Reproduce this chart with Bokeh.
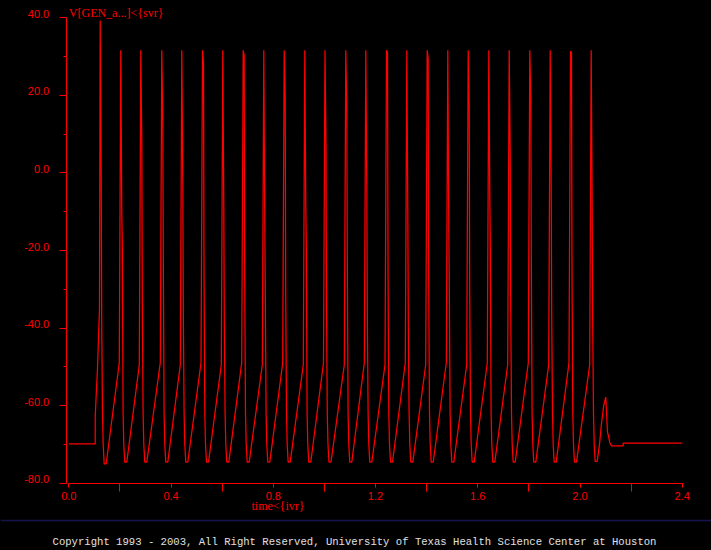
from bokeh.plotting import figure
from bokeh.models import LinearAxis, FixedTicker, Range1d, Span, Label, PrintfTickFormatter
from bokeh.embed import file_html
from bokeh.resources import INLINE

# ---------------- data ----------------
# resting level before the stimulus and the stimulus-onset ramp
rest_t = [0.0, 0.1033]
rest_v = [-69.9, -69.9]
onset_t = [0.1034, 0.1072, 0.1123, 0.1162, 0.1201]
onset_v = [-62.9, -57.3, -50.4, -42.3, -35.0]

# spike peaks (s, mV)
spike_t = [0.1228, 0.2034, 0.2817, 0.3638, 0.4421, 0.5231, 0.6025, 0.6823,
           0.7629, 0.8427, 0.9233, 1.0023, 1.0837, 1.1620, 1.2430, 1.3224,
           1.4022, 1.4828, 1.5626, 1.6432, 1.7230, 1.8036, 1.8834, 1.9628,
           2.0438]
spike_peak = [39.3, 31.6, 31.6, 31.6, 31.6, 31.6, 31.6, 31.6, 31.6, 31.6,
              31.6, 31.6, 31.6, 31.6, 31.6, 31.6, 31.6, 31.6, 31.6, 31.6,
              31.6, 31.6, 31.6, 31.4, 31.6]
# first and second samples on the falling phase of each spike (mV)
spike_hi = [-0.2, -11.0, 7.9, 13.1, -2.4, 28.6, -8.8, 30.3, -13.5, 20.0,
            -8.8, 6.2, 16.1, -3.2, 31.1, -9.7, 29.4, -14.4, 17.8, -5.8,
            4.5, 18.7, -3.7, 31.1, -10.1]
spike_lo = [-38.0, -17.8, -33.0, -21.3, -35.4, -24.6, -38.4, -27.2, -31.6, -30.3,
            -17.8, -32.9, -21.7, -35.9, -24.7, -39.3, -27.7, -29.4, -30.7, -18.2,
            -33.3, -22.1, -36.3, -25.1, -38.9]
# after-hyperpolarisation trough of each cycle (mV)
trough_v = [-75.0, -74.6, -74.6, -74.6, -74.6, -74.6, -74.6, -74.6, -74.6, -74.6,
            -74.6, -74.6, -74.6, -74.6, -74.6, -74.6, -74.6, -74.6, -74.6, -74.6,
            -74.6, -74.6, -74.6, -74.6, -74.4]
# level reached by the slow ramp just before spikes 2..25 (mV)
ramp_top_v = [-49.0, -49.5, -49.0, -49.5, -49.0, -49.5, -49.0, -49.5,
              -49.0, -49.5, -49.0, -49.5, -49.0, -49.5, -49.0, -49.5,
              -49.0, -49.5, -49.0, -49.5, -49.0, -49.5, -49.0, -49.5]
# shape of the falling phase: time after the peak (s) and fixed levels (mV)
fall_dt = [0.0039, 0.0059, 0.0090, 0.0117, 0.0156, 0.0235]
fall_mid_v = [-62.0, -70.0]
pre_dt = 0.0059
# last sub-threshold bump and return to rest
tail_t = [2.0763, 2.0841, 2.0931, 2.1009, 2.1076, 2.1166, 2.1232, 2.1690, 2.1691, 2.4]
tail_v = [-70.0, -64.6, -59.9, -57.8, -66.8, -69.5, -70.4, -70.4, -69.7, -69.7]

# axis ticks
x_ticks = [0.0, 0.4, 0.8, 1.2, 1.6, 2.0, 2.4]
x_minor = [0.2, 0.6, 1.0, 1.4, 1.8, 2.2]
y_ticks = [-80.0, -60.0, -40.0, -20.0, 0.0, 20.0, 40.0]
y_minor = [-70.0, -50.0, -30.0, -10.0, 10.0, 30.0]
y_tick_labels = ["-80.0", "-60.0", "-40.0", "-20.0", "0.0", "20.0", "40.0"]

title_text = "V[GEN_a...]<{svr}"
xlabel_text = "time<{ivr}"
footer_text = ("Copyright 1993 - 2003, All Right Reserved, "
               "University of Texas Health Science Center at Houston")

# ---------------- build the trace polyline ----------------
t = list(rest_t) + list(onset_t)
v = list(rest_v) + list(onset_v)
for i in range(len(spike_t)):
    if i > 0:
        t.append(spike_t[i] - pre_dt)
        v.append(ramp_top_v[i - 1])
    t.append(spike_t[i])
    v.append(spike_peak[i])
    vals = [spike_hi[i], spike_lo[i], fall_mid_v[0], fall_mid_v[1], trough_v[i], trough_v[i]]
    for dt, val in zip(fall_dt, vals):
        t.append(spike_t[i] + dt)
        v.append(val)
t += tail_t
v += tail_v

# ---------------- layout (pixel mapping of the reference) ----------------
W, H = 711, 550
X0, KX = 68.3, 255.6     # px of t=0 from the left, px per second
Y0, KY = 172.4, 3.878    # px of 0 mV from the top, px per mV

def dx(px):
    return (px - X0) / KX

def dy(py):
    return (Y0 - py) / KY

RED = "#ff0000"

p = figure(width=W, height=H, output_backend="svg", toolbar_location=None,
           x_range=Range1d(dx(0), dx(W)), y_range=Range1d(dy(H), dy(0)),
           x_axis_location=None, y_axis_location=None,
           min_border=0, min_border_left=0, min_border_right=0,
           min_border_top=0, min_border_bottom=0,
           background_fill_color="#000000", border_fill_color="#000000",
           outline_line_color=None)
p.grid.visible = False

yaxis_x = dx(65.7)

xaxis = LinearAxis(fixed_location=-80.0, bounds=(0.0, dx(683.0)),
                   ticker=FixedTicker(ticks=x_ticks, minor_ticks=x_minor),
                   formatter=PrintfTickFormatter(format="%.1f"),
                   axis_line_color=RED, axis_line_width=1.2,
                   major_tick_line_color=RED, major_tick_out=4, major_tick_in=0,
                   minor_tick_line_color=RED, minor_tick_out=8, minor_tick_in=0,
                   major_label_standoff=1,
                   major_label_text_color=RED,
                   major_label_text_font="Liberation Sans",
                   major_label_text_font_size="11px")
p.add_layout(xaxis, "below")

yaxis = LinearAxis(fixed_location=yaxis_x, bounds=(-80.0, 40.0),
                   ticker=FixedTicker(ticks=y_ticks, minor_ticks=y_minor),
                   axis_line_color=RED, axis_line_width=1.2,
                   major_tick_line_color=RED, major_tick_out=7, major_tick_in=0,
                   minor_tick_line_color=RED, minor_tick_out=3, minor_tick_in=0,
                   major_label_text_color=None)
p.add_layout(yaxis, "left")

shift = 1.0
label_ticks = [yt + shift for yt in y_ticks]
ylab = LinearAxis(fixed_location=yaxis_x,
                  ticker=FixedTicker(ticks=label_ticks, minor_ticks=[]),
                  major_label_overrides={lt: s for lt, s in zip(label_ticks, y_tick_labels)},
                  axis_line_color=None, major_tick_line_color=None,
                  minor_tick_line_color=None, major_tick_out=0, major_tick_in=0,
                  major_label_standoff=17,
                  major_label_text_color=RED,
                  major_label_text_font="Liberation Sans",
                  major_label_text_font_size="11px")
p.add_layout(ylab, "left")

p.line(t, v, line_color=RED, line_width=1.25)

p.add_layout(Label(x=0.0, y=dy(12.7), text=title_text, text_color=RED,
                   text_font="Liberation Serif", text_font_size="12px",
                   text_align="left", text_baseline="alphabetic"))
p.add_layout(Label(x=dx(277.5), y=dy(505.0), text=xlabel_text, text_color=RED,
                   text_font="Liberation Serif", text_font_size="12px",
                   text_align="center", text_baseline="alphabetic"))

p.add_layout(Span(location=dy(520.0), dimension="width",
                  line_color="#14144e", line_width=1.5))
p.add_layout(Label(x=dx(354.0), y=dy(541.0), text=footer_text, text_color="#e0e0e0",
                   text_font="Liberation Mono", text_font_size="10.6px",
                   text_align="center", text_baseline="alphabetic"))

html = file_html(p, INLINE, title="GENESIS plot")
html = html.replace("<head>", "<head><style>html, body { background: #000000; "
                    "margin: 0; padding: 0; overflow: hidden; }</style>", 1)
open("out.html", "w").write(html)
